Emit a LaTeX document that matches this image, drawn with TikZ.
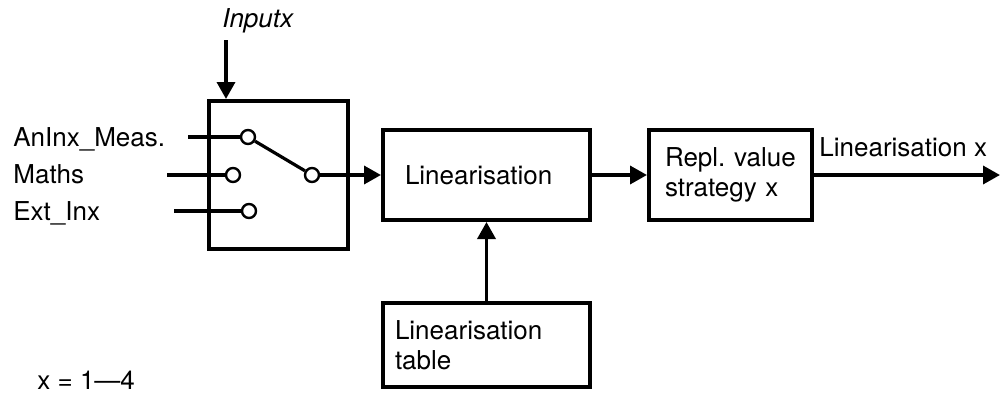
\documentclass[tikz,border=0pt]{standalone}
\usepackage{fontspec}
\setmainfont{TeX Gyre Heros}
\usetikzlibrary{shapes.geometric, arrows.meta, positioning}

\begin{document}
\begin{tikzpicture}[x=0.5pt, y=-0.5pt,
						font=\fontsize{13pt}{15pt}\selectfont,
						node distance = 16pt and 16pt, % Distancia vertical y horizontal
						block/.style = {rectangle, draw, line width=2pt, align=left,
										minimum height=45pt},
						contact/.style = {circle, draw, fill=white, line width=1.2pt,
										inner sep=0pt, minimum size=7pt},
						lbl/.style = {inner sep=0pt, anchor=base west},
						line/.style = {line width=1.75pt, -{Triangle[length=8.5pt, width=9pt]}},
						wire/.style = {line width=1.6pt}
						]
						\useasboundingbox (0,0) rectangle (1007,396);

						% --- Selector de entrada ---
						\node[block, minimum width=69.5pt, minimum height=74pt] (sw) at (278.5,175) {};
						\node[contact] (c1) at (248,137) {};
						\node[contact] (c2) at (233,175) {};
						\node[contact] (c3) at (249,211) {};
						\node[contact] (cout) at (312,175) {};
						\coordinate (in1) at (188,137);
						\coordinate (in2) at (167,175);
						\coordinate (in3) at (174,211);
						\coordinate (inp) at (226,40);

						% --- Bloques ---
						\node[block, right=15.5pt of sw, text width=81.5pt, inner xsep=11pt] (lin) {Linearisation};
						\node[block, right=27.5pt of lin, text width=65.5pt, inner xsep=8pt] (repl) {Repl.\ value\\strategy x};
						\node[block, below=39.5pt of lin, minimum height=42pt, text width=91.5pt, inner xsep=6pt] (tbl) {Linearisation\\table};
						\coordinate (outp) at (1000,175);

						% --- Textos ---
						\node[lbl] (inplbl) at (222,27) {\textit{Inputx}};
						\node[lbl] (lbl1) at (13,146) {AnInx\_Meas.};
						\node[lbl] (lbl2) at (13,183) {Maths};
						\node[lbl] (lbl3) at (13,220) {Ext\_Inx};
						\node[lbl] (outlbl) at (819,156) {Linearisation x};
						\node[lbl] (range) at (37,389) {x = 1---4};

						% --- Conexiones ---
						\draw[line] (inp) -- (inp |- sw.north);
						\draw[wire] (in1) -- (c1);
						\draw[wire] (in2) -- (c2);
						\draw[wire] (in3) -- (c3);
						\draw[wire] (c1) -- (cout);
						\draw[line] (cout) -- (lin);
						\draw[line] (lin) -- (repl);
						\draw[line] (tbl) -- (lin);
						\draw[line] (repl) -- (outp);

					\end{tikzpicture}
\end{document}
